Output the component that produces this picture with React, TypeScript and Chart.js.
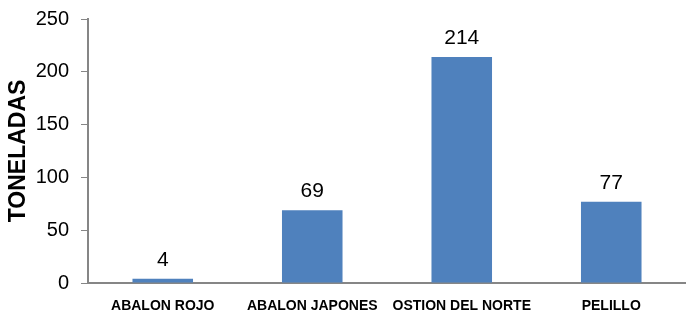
import React, { useEffect, useRef } from "react";
import { Chart, registerables } from "chart.js";

Chart.register(...registerables);

const categories = ["ABALON ROJO", "ABALON JAPONES", "OSTION DEL NORTE", "PELILLO"];
const toneladas = [4, 69, 214, 77];
const yTickMin = 0;
const yTickMax = 250;
const yTickStep = 50;
const yTitle = "TONELADAS";

const BAR_COLOR = "#4F81BD";
const AXIS_COLOR = "#868686";
const FONT = "Arial, 'Liberation Sans', sans-serif";

const valueLabels = {
  id: "valueLabels",
  afterDatasetsDraw(chart: any) {
    const ctx = chart.ctx;
    ctx.save();
    ctx.font = `21px ${FONT}`;
    ctx.fillStyle = "#000";
    ctx.textAlign = "center";
    ctx.textBaseline = "alphabetic";
    chart.data.datasets.forEach((ds: any, di: number) => {
      const meta = chart.getDatasetMeta(di);
      meta.data.forEach((el: any, i: number) => {
        ctx.fillText(String(ds.data[i]), el.x, el.y - 13);
      });
    });
    ctx.restore();
  },
};

export default function App() {
  const ref = useRef<HTMLCanvasElement | null>(null);
  useEffect(() => {
    document.body.style.margin = "0";
    const canvas = ref.current;
    if (!canvas) return;
    const chart = new Chart(canvas, {
      type: "bar",
      data: {
        labels: categories,
        datasets: [
          {
            data: toneladas,
            backgroundColor: BAR_COLOR,
            borderWidth: 0,
            categoryPercentage: 1,
            barPercentage: 0.405,
          },
        ],
      },
      options: {
        responsive: false,
        animation: false,
        devicePixelRatio: 1,
        layout: { padding: { top: 19, right: 0, bottom: 3, left: 0 } },
        plugins: {
          legend: { display: false },
          tooltip: { enabled: false },
        },
        scales: {
          x: {
            grid: { display: false, drawTicks: false },
            border: { display: true, color: AXIS_COLOR, width: 2 },
            ticks: {
              font: { family: FONT, size: 14, weight: "bold" },
              color: "#000",
              padding: 15,
              maxRotation: 0,
              autoSkip: false,
            },
            afterFit(scale: any) {
              scale.height = 32;
              scale.paddingLeft = 0;
              scale.paddingRight = 0;
            },
          },
          y: {
            min: yTickMin,
            max: yTickMax,
            grid: {
              drawOnChartArea: false,
              drawTicks: true,
              tickLength: 7,
              color: AXIS_COLOR,
              lineWidth: 1,
            },
            border: { display: true, color: AXIS_COLOR, width: 2 },
            ticks: {
              stepSize: yTickStep,
              font: { family: FONT, size: 20 },
              color: "#000",
              padding: 12,
            },
            title: {
              display: true,
              text: yTitle,
              font: { family: FONT, size: 23, weight: "bold" },
              color: "#000",
              padding: { top: 5, bottom: 0 },
            },
            afterFit(scale: any) {
              scale.width = 88;
              scale.paddingTop = 0;
              scale.paddingBottom = 0;
            },
          },
        },
      },
      plugins: [valueLabels],
    } as any);
    return () => chart.destroy();
  }, []);
  return (
    <div style={{ position: "absolute", left: 0, top: 0, width: 686, height: 318 }}>
      <canvas ref={ref} width={686} height={318} style={{ width: 686, height: 318, display: "block" }} />
    </div>
  );
}
